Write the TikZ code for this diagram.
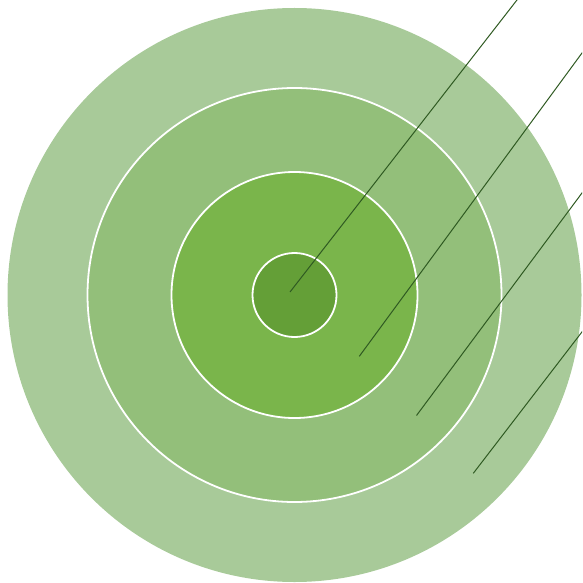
\documentclass[tikz,border=0pt]{standalone}
\definecolor{ringA}{HTML}{A8CA99}
\definecolor{ringB}{HTML}{93BF7A}
\definecolor{ringC}{HTML}{7AB54B}
\definecolor{ringD}{HTML}{649F37}
\definecolor{leader}{HTML}{2F5A22}
\tikzset{
  ring/.style={circle, inner sep=0pt, outer sep=0pt},
  whiteedge/.style={draw=white, line width=1.8pt},
  leaderline/.style={draw=leader, line width=1pt}
}
\begin{document}
\begin{tikzpicture}[x=1pt,y=-1pt]
\useasboundingbox (0,0) rectangle (582,583);
\clip (0,0) rectangle (582,583);
\coordinate (c) at (294.5,295);
\node[ring, fill=ringA, minimum size=574pt] (r1) at (c) {};
\node[ring, fill=ringB, whiteedge, minimum size=414pt] (r2) at (c) {};
\node[ring, fill=ringC, whiteedge, minimum size=246pt] (r3) at (c) {};
\node[ring, fill=ringD, whiteedge, minimum size=84pt] (r4) at (c) {};
\coordinate (a1) at (290,292);
\coordinate (b1) at (519.3,-3);
\coordinate (a2) at (359.3,356.3);
\coordinate (b2) at (584.2,50);
\coordinate (a3) at (416.5,415.5);
\coordinate (b3) at (584.2,190);
\coordinate (a4) at (473.3,473.3);
\coordinate (b4) at (584.2,329);
\draw[leaderline] (a1) -- (b1);
\draw[leaderline] (a2) -- (b2);
\draw[leaderline] (a3) -- (b3);
\draw[leaderline] (a4) -- (b4);
\end{tikzpicture}
\end{document}
